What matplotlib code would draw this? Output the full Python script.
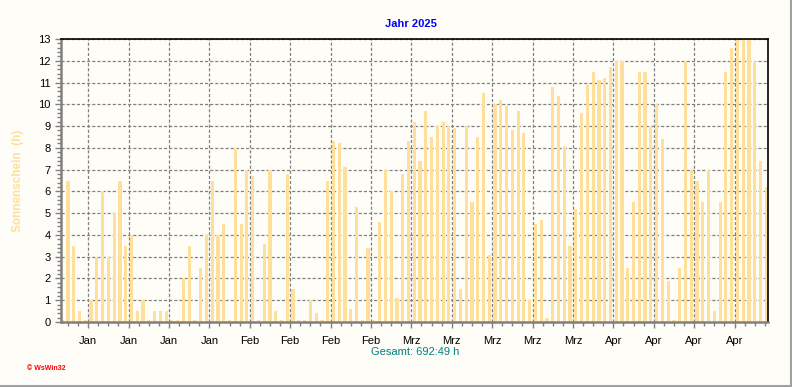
import matplotlib.pyplot as plt
from matplotlib.ticker import MultipleLocator, FixedLocator
from matplotlib.lines import Line2D

plt.rcParams['font.family'] = ['Liberation Sans', 'DejaVu Sans']

# Sonnenschein (h) je Tag, 1. Jan bis 3. Mai 2025
sonne = [
    0, 6.5, 3.5, 0.5, 0, 1.0, 3.0, 6.0, 3.0, 5.0,
    6.5, 3.5, 4.0, 0.5, 1.0, 0, 0.5, 0.5, 0.5, 0,
    0, 2.0, 3.5, 0, 2.5, 4.0, 6.5, 4.0, 4.5, 0,
    8.0, 4.5, 7.0, 6.7, 0.1, 3.6, 7.0, 0.5, 0.1, 6.8,
    1.5, 0, 0, 1.0, 0.4, 0, 6.5, 8.3, 8.2, 7.1,
    0.6, 5.3, 0, 3.4, 0, 4.6, 7.0, 6.0, 1.1, 6.8,
    8.3, 9.2, 7.4, 9.7, 8.5, 9.0, 9.2, 9.0, 8.9, 1.5,
    9.0, 5.5, 8.5, 10.5, 3.1, 10.0, 10.2, 9.9, 8.8, 9.7,
    8.7, 1.0, 4.5, 4.7, 0.2, 10.8, 10.4, 8.1, 3.5, 5.2,
    9.6, 10.9, 11.5, 11.1, 11.2, 11.7, 12.0, 12.0, 2.5, 5.5,
    11.5, 11.5, 9.0, 10.0, 8.4, 1.9, 0, 2.5, 12.0, 7.0,
    6.5, 5.5, 7.0, 0.5, 5.5, 11.5, 12.6, 13.0, 13.0, 13.0,
    12.0, 7.4, 6.2,
]
week_labels = ["Jan"] * 4 + ["Feb"] * 4 + ["Mrz"] * 5 + ["Apr"] * 4
title = "Jahr 2025"
total_text = "Gesamt: 692:49 h"

bg = '#FFFDF8'
bar_col = '#FFDF9C'
grid_col = '#808080'

days = list(range(len(sonne)))
week_ticks = [4.5 + 7 * k for k in range(len(week_labels))]
minor_ticks = [1.0 + 1.75 * k for k in range(70)]

fig = plt.figure(figsize=(7.92, 3.87), dpi=100, facecolor=bg)
ax = fig.add_axes([60.5 / 792, 65 / 387, 707.5 / 792, 283 / 387])
ax.set_facecolor(bg)

ax.bar(days, sonne, width=0.55, color=bar_col, zorder=2)
# kleine Stummel an der Nulllinie fuer jeden Tag
ax.bar(days, [0.08] * len(days), width=0.55, color=bar_col, zorder=2)

ax.set_xlim(-0.3, 122.3)
ax.set_ylim(0, 13)

ax.set_yticks(range(14))
ax.yaxis.set_minor_locator(MultipleLocator(0.2))
ax.xaxis.set_major_locator(FixedLocator(week_ticks))
ax.xaxis.set_minor_locator(FixedLocator([t for t in minor_ticks if t < 122.3]))
ax.set_xticklabels(week_labels)

ax.tick_params(axis='both', which='major', labelsize=8, colors=grid_col,
               labelcolor='black', length=4, width=1)
ax.tick_params(axis='both', which='minor', colors=grid_col, length=3, width=1)
ax.tick_params(axis='x', which='major', pad=6)
ax.tick_params(axis='y', which='major', pad=3)

ax.grid(True, which='major', color=grid_col, linewidth=0.9,
        linestyle=(0, (2.5, 1.6)), zorder=1)

for side in ('left', 'bottom'):
    ax.spines[side].set_color(grid_col)
    ax.spines[side].set_linewidth(1.8)
for side in ('top', 'right'):
    ax.spines[side].set_color('black')
    ax.spines[side].set_linewidth(1.2)

ax.set_ylabel("Sonnenschein  (h)", color=bar_col, fontsize=8.5,
              fontweight='bold', labelpad=10)

fig.text(411 / 792, 1 - 24 / 387, title, color='#0000FF', fontsize=8,
         fontweight='bold', ha='center', va='center')
fig.text(415 / 792, 1 - 352 / 387, total_text, color='#008080',
         fontsize=8, ha='center', va='center')
fig.text(27 / 792, 1 - 368 / 387, "\u00a9 WsWin32", color='#FF0000',
         fontsize=5, fontweight='bold', ha='left', va='center')

# grauer Rahmen rechts und unten
fig.add_artist(Line2D([0, 1], [1.5 / 387, 1.5 / 387], color='#A0A0A0',
                      linewidth=1.5, transform=fig.transFigure))
fig.add_artist(Line2D([1 - 1.5 / 792, 1 - 1.5 / 792], [0, 1], color='#A0A0A0',
                      linewidth=1.5, transform=fig.transFigure))

fig.savefig("out.png", dpi=100, facecolor=bg)
